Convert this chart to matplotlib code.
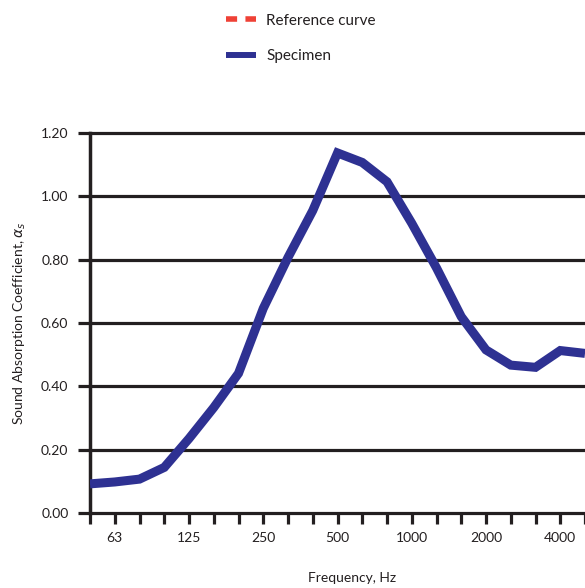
import matplotlib
matplotlib.use("Agg")
import matplotlib.pyplot as plt
from matplotlib.lines import Line2D
import numpy as np

# third-octave bands and measured absorption
bands = ["50", "63", "80", "100", "125", "160", "200", "250", "315", "400", "500",
         "630", "800", "1000", "1250", "1600", "2000", "2500", "3150", "4000", "5000"]
specimen = [0.092, 0.098, 0.107, 0.144, 0.235, 0.333, 0.441, 0.646, 0.807, 0.955, 1.137,
            1.107, 1.046, 0.915, 0.774, 0.62, 0.515, 0.467, 0.46, 0.513, 0.504]
labelled = ["63", "125", "250", "500", "1000", "2000", "4000"]
y_ticks = [0.0, 0.2, 0.4, 0.6, 0.8, 1.0, 1.2]

plt.rcParams['font.family'] = ['Lato', 'DejaVu Sans']
dark = "#231f20"
blue = "#2e3192"
red = "#ef4136"

fig = plt.figure(figsize=(5.85, 5.88), dpi=100)
ax = fig.add_axes([90 / 585, 1 - 513 / 588, 1 - 90 / 585, (513 - 133) / 588])

x = np.arange(len(bands))
ax.plot(x, specimen, color=blue, lw=6.5, solid_joinstyle='miter', solid_capstyle='butt',
        zorder=3)

# horizontal grid
for v in y_ticks:
    ax.axhline(v, color=dark, lw=2.3, zorder=1, clip_on=False)

ax.set_xlim(0, len(bands) - 1)
ax.set_ylim(0, 1.2)
ax.set_yticks(y_ticks)
ax.set_yticklabels(["%.2f" % v for v in y_ticks], fontsize=10, color=dark)
ax.set_xticks(x)
ax.set_xticklabels([b if b in labelled else "" for b in bands], fontsize=10, color=dark)

ax.tick_params(axis='y', length=8.5, width=2.3, color=dark, pad=7)
ax.tick_params(axis='x', length=8, width=2.3, color=dark, pad=6)

for s in ["top", "right", "bottom"]:
    ax.spines[s].set_visible(False)
ax.spines["left"].set_linewidth(2.5)
ax.spines["left"].set_color(dark)

ax.set_ylabel(r"Sound Absorption Coefficient, $\alpha_s$", fontsize=10, color=dark, labelpad=9)
fig.text(352 / 585, 1 - 578 / 588, "Frequency, Hz", ha="center", va="center",
         fontsize=10, color=dark)

handles = [Line2D([], [], color=red, lw=4, ls=(0, (2.0, 1.5)), dash_capstyle='butt'),
           Line2D([], [], color=blue, lw=4.3, solid_capstyle='butt')]
leg = fig.legend(handles=handles, labels=["Reference curve", "Specimen"],
                 loc="upper left", bbox_to_anchor=(212 / 585, 1.0), frameon=False,
                 fontsize=11, handlelength=1.95, labelspacing=1.4, handletextpad=0.7)
for t in leg.get_texts():
    t.set_color(dark)

fig.savefig("out.png", dpi=100)
